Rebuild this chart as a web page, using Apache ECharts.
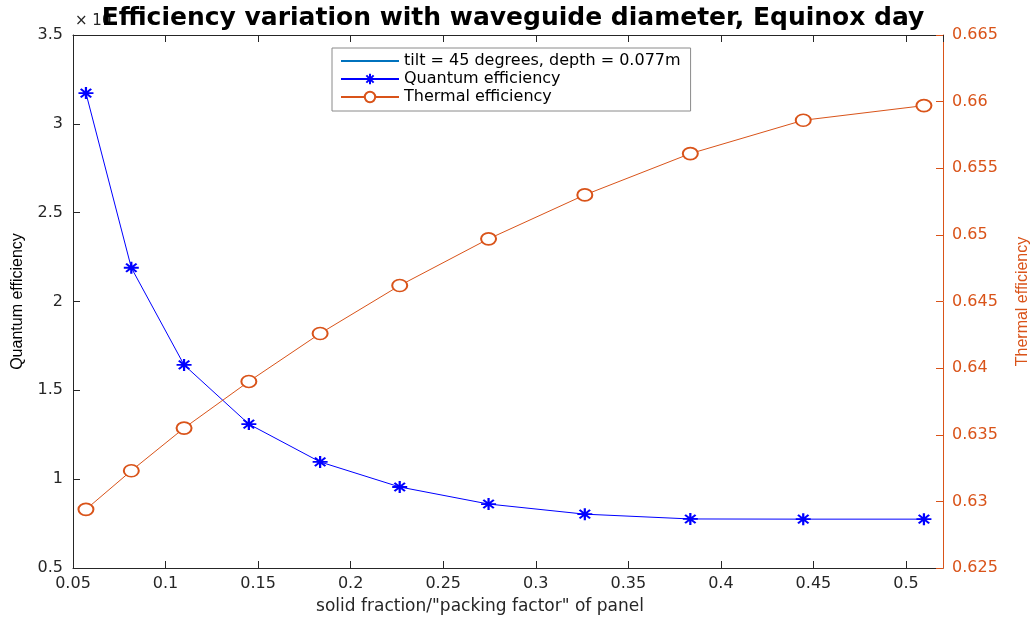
<!DOCTYPE html>
<html>
<head>
<meta charset="utf-8">
<script src="https://cdn.jsdelivr.net/npm/echarts@6/dist/echarts.min.js"></script>
<style>html,body{margin:0;padding:0;background:#fff;}#chart{width:1034px;height:620px;}</style>
</head>
<body>
<div id="chart"></div>
<script>
const titleText = 'Efficiency variation with waveguide diameter, Equinox day';
const xLabel = 'solid fraction/"packing factor" of panel';
const yLeftLabel = 'Quantum efficiency';
const yRightLabel = 'Thermal efficiency';
const legendNames = ['tilt = 45 degrees, depth = 0.077m', 'Quantum efficiency', 'Thermal efficiency'];
const solidFraction = [0.057, 0.0815, 0.110, 0.145, 0.1835, 0.2265, 0.2745, 0.3265, 0.3835, 0.4445, 0.5097];
const quantumEff = [3.173, 2.19, 1.643, 1.31, 1.097, 0.956, 0.86, 0.803, 0.776, 0.775, 0.775];
const thermalEff = [0.6294, 0.6323, 0.6355, 0.6390, 0.6426, 0.6462, 0.6497, 0.6530, 0.6561, 0.6586, 0.6597];

const WIDE = '"DejaVu Sans", Verdana, sans-serif';
const NARROW = '"Liberation Sans", Arial, Helvetica, sans-serif';
const DARK = '#262626';
const BLUE = '#0000FF';
const ORANGE = '#D95319';
const TEAL = '#0072BD';
const asterisk = 'path://M0,5L10,5M5,0L5,10M1.5,1.5L8.5,8.5M8.5,1.5L1.5,8.5';

const chart = echarts.init(document.getElementById('chart'), null, {renderer: 'canvas'});
chart.setOption({
  backgroundColor: '#fff',
  animation: false,
  textStyle: {fontFamily: WIDE},
  title: {
    text: titleText, left: 508, top: 1, textAlign: 'center', z: 10,
    textStyle: {fontFamily: WIDE, fontSize: 25, fontWeight: 'bold', color: '#000'}
  },
  graphic: [{
    type: 'text', left: 75, top: 14, z: 0, zlevel: 0,
    style: {text: '\u00d7 10', fontFamily: WIDE, fontSize: 15, fill: DARK}
  }],
  legend: {
    orient: 'vertical', left: 332, top: 48,
    data: [
      {name: legendNames[0], itemStyle: {opacity: 0}},
      {name: legendNames[1]},
      {name: legendNames[2]}
    ],
    itemWidth: 58, itemHeight: 13, itemGap: 0, itemTextGap: 7,
    padding: [4, 10, 5, 8],
    borderColor: '#8a8a8a', borderWidth: 1, backgroundColor: '#fff',
    textStyle: {fontFamily: WIDE, fontSize: 16, color: '#000', lineHeight: 18}
  },
  grid: {left: 73, right: 91, top: 35, bottom: 52, containLabel: false, outerBoundsMode: 'none'},
  xAxis: [{
    type: 'value', min: 0.05, max: 0.52, interval: 0.05,
    name: xLabel, nameLocation: 'middle', nameGap: 30,
    nameTextStyle: {fontFamily: WIDE, fontSize: 17, color: DARK, padding: [0, 56, 0, 0]},
    axisLine: {show: true, lineStyle: {color: DARK, width: 1}},
    axisTick: {show: true, inside: true, length: 7, lineStyle: {color: DARK}},
    axisLabel: {fontFamily: WIDE, fontSize: 16, color: DARK, margin: 8, showMaxLabel: false},
    splitLine: {show: false}
  }, {
    type: 'value', min: 0.05, max: 0.52, interval: 0.05, position: 'top',
    axisLine: {show: true, onZero: false, lineStyle: {color: DARK, width: 1}},
    axisTick: {show: true, inside: true, length: 7, lineStyle: {color: DARK}},
    axisLabel: {show: false},
    splitLine: {show: false}
  }],
  yAxis: [{
    type: 'value', min: 0.5, max: 3.5, interval: 0.5, position: 'left',
    name: yLeftLabel, nameLocation: 'middle', nameGap: 47, nameRotate: 90,
    nameTextStyle: {fontFamily: NARROW, fontSize: 16, color: '#000'},
    axisLine: {show: true, lineStyle: {color: DARK, width: 1}},
    axisTick: {show: true, inside: true, length: 7, lineStyle: {color: DARK}},
    axisLabel: {fontFamily: WIDE, fontSize: 16, color: DARK, margin: 10},
    splitLine: {show: false}
  }, {
    type: 'value', min: 0.625, max: 0.665, interval: 0.005, position: 'right',
    name: yRightLabel, nameLocation: 'middle', nameGap: 72, nameRotate: 90,
    nameTextStyle: {fontFamily: NARROW, fontSize: 16, color: ORANGE},
    axisLine: {show: true, lineStyle: {color: ORANGE, width: 1}},
    axisTick: {show: true, inside: true, length: 7, lineStyle: {color: ORANGE}},
    axisLabel: {fontFamily: WIDE, fontSize: 16, color: ORANGE, margin: 9},
    splitLine: {show: false}
  }],
  series: [{
    name: legendNames[0], type: 'line', data: [], symbol: 'none',
    lineStyle: {color: TEAL, width: 1}, itemStyle: {color: TEAL}
  }, {
    name: legendNames[1], type: 'line', xAxisIndex: 0, yAxisIndex: 0,
    data: solidFraction.map((x, i) => [x, quantumEff[i]]),
    symbol: asterisk, symbolSize: [15, 12], showAllSymbol: true,
    lineStyle: {color: BLUE, width: 1},
    itemStyle: {color: 'none', borderColor: BLUE, borderWidth: 2}
  }, {
    name: legendNames[2], type: 'line', xAxisIndex: 0, yAxisIndex: 1,
    data: solidFraction.map((x, i) => [x, thermalEff[i]]),
    symbol: 'circle', symbolSize: [15, 12], showAllSymbol: true,
    lineStyle: {color: ORANGE, width: 1},
    itemStyle: {color: '#fff', borderColor: ORANGE, borderWidth: 1.8}
  }]
});
</script>
</body>
</html>
